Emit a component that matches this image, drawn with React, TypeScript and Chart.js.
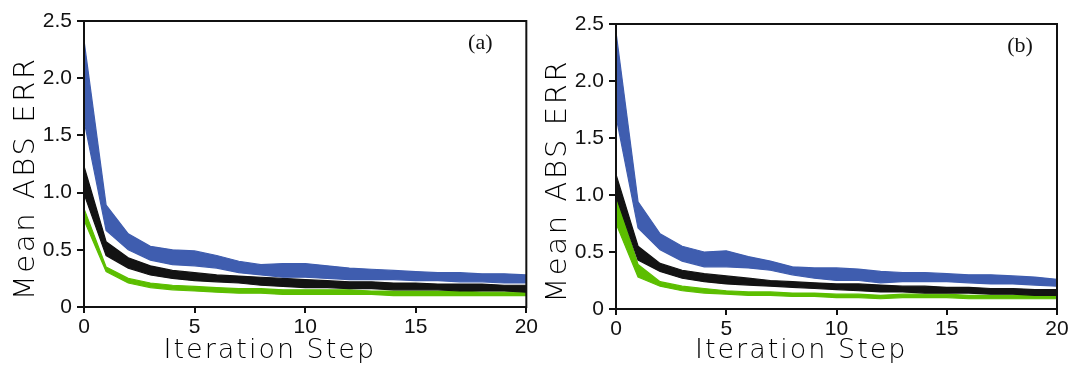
import React, { useEffect, useRef } from "react";
import { Chart, registerables } from "chart.js";

Chart.register(...registerables);

const steps = [0, 1, 2, 3, 4, 5, 6, 7, 8, 9, 10, 11, 12, 13, 14, 15, 16, 17, 18, 19, 20];
const xTickLabels = ["0", "5", "10", "15", "20"];
const yTickLabels = ["0", "0.5", "1.0", "1.5", "2.0", "2.5"];

// Panel (a)
const blueHiA = [2.33, 0.89, 0.64, 0.53, 0.5, 0.49, 0.45, 0.4, 0.37, 0.38, 0.38, 0.36, 0.34, 0.33, 0.32, 0.31, 0.3, 0.3, 0.29, 0.29, 0.28];
const blueLoA = [1.63, 0.67, 0.5, 0.41, 0.37, 0.36, 0.34, 0.3, 0.28, 0.26, 0.26, 0.25, 0.24, 0.24, 0.24, 0.23, 0.23, 0.22, 0.22, 0.21, 0.21];
const blackHiA = [1.23, 0.57, 0.43, 0.36, 0.32, 0.3, 0.28, 0.27, 0.26, 0.25, 0.24, 0.23, 0.22, 0.22, 0.21, 0.21, 0.2, 0.2, 0.2, 0.19, 0.19];
const blackLoA = [0.99, 0.45, 0.34, 0.28, 0.25, 0.23, 0.22, 0.21, 0.19, 0.18, 0.17, 0.17, 0.16, 0.16, 0.15, 0.15, 0.15, 0.14, 0.14, 0.14, 0.13];
const greenHiA = [0.86, 0.35, 0.25, 0.21, 0.19, 0.18, 0.17, 0.16, 0.16, 0.15, 0.15, 0.15, 0.15, 0.14, 0.14, 0.14, 0.14, 0.14, 0.13, 0.13, 0.13];
const greenLoA = [0.76, 0.31, 0.21, 0.17, 0.15, 0.14, 0.13, 0.12, 0.12, 0.11, 0.11, 0.11, 0.11, 0.11, 0.1, 0.1, 0.1, 0.1, 0.1, 0.1, 0.1];

// Panel (b)
const blueHiB = [2.43, 0.94, 0.66, 0.55, 0.5, 0.51, 0.46, 0.42, 0.37, 0.36, 0.36, 0.35, 0.33, 0.32, 0.32, 0.31, 0.3, 0.3, 0.29, 0.28, 0.26];
const blueLoB = [1.69, 0.71, 0.52, 0.42, 0.37, 0.37, 0.36, 0.34, 0.3, 0.27, 0.25, 0.25, 0.23, 0.24, 0.24, 0.24, 0.23, 0.22, 0.22, 0.21, 0.2];
const blackHiB = [1.18, 0.55, 0.4, 0.34, 0.31, 0.29, 0.27, 0.25, 0.24, 0.23, 0.22, 0.22, 0.21, 0.2, 0.2, 0.19, 0.19, 0.18, 0.18, 0.17, 0.17];
const blackLoB = [0.99, 0.43, 0.33, 0.27, 0.24, 0.22, 0.21, 0.2, 0.19, 0.18, 0.17, 0.16, 0.15, 0.15, 0.14, 0.14, 0.14, 0.13, 0.13, 0.12, 0.12];
const greenHiB = [0.99, 0.39, 0.24, 0.2, 0.18, 0.16, 0.15, 0.15, 0.14, 0.14, 0.13, 0.13, 0.12, 0.13, 0.13, 0.13, 0.12, 0.12, 0.12, 0.12, 0.12];
const greenLoB = [0.75, 0.28, 0.2, 0.16, 0.14, 0.13, 0.12, 0.12, 0.11, 0.11, 0.1, 0.1, 0.09, 0.1, 0.1, 0.1, 0.09, 0.09, 0.09, 0.09, 0.09];

const BLUE = "#3f5daf";
const BLACK = "#131313";
const GREEN = "#5cbe00";

const xTitle = "Iteration Step";
const yTitle = "Mean ABS ERR";

type PanelSpec = {
  tag: string;
  bands: { hi: number[]; lo: number[]; color: string }[];
  padTop: number;
  padRight: number;
  xAxisHeight: number;
  tagDx: number;
  tagDy: number;
};

const panels: PanelSpec[] = [
  {
    tag: "(a)",
    bands: [
      { hi: blueHiA, lo: blueLoA, color: BLUE },
      { hi: blackHiA, lo: blackLoA, color: BLACK },
      { hi: greenHiA, lo: greenLoA, color: GREEN },
    ],
    padTop: 21,
    padRight: 13,
    xAxisHeight: 60,
    tagDx: 46,
    tagDy: 22,
  },
  {
    tag: "(b)",
    bands: [
      { hi: blueHiB, lo: blueLoB, color: BLUE },
      { hi: blackHiB, lo: blackLoB, color: BLACK },
      { hi: greenHiB, lo: greenLoB, color: GREEN },
    ],
    padTop: 24,
    padRight: 18,
    xAxisHeight: 58,
    tagDx: 37,
    tagDy: 22,
  },
];

function toPts(vals: number[]) {
  return vals.map((v, i) => ({ x: steps[i], y: v }));
}

function Panel({ spec, width, height }: { spec: PanelSpec; width: number; height: number }) {
  const ref = useRef<HTMLCanvasElement | null>(null);
  useEffect(() => {
    if (!ref.current) return;
    const datasets: any[] = [];
    spec.bands.forEach((b) => {
      datasets.push({
        data: toPts(b.hi),
        borderColor: b.color,
        borderWidth: 1.2,
        pointRadius: 0,
        tension: 0,
        fill: false,
      });
      datasets.push({
        data: toPts(b.lo),
        borderColor: b.color,
        backgroundColor: b.color,
        borderWidth: 1.2,
        pointRadius: 0,
        tension: 0,
        fill: "-1",
      });
    });

    const decor = {
      id: "decor",
      afterDraw(chart: any) {
        const { ctx, chartArea } = chart;
        const { left, top, right, bottom } = chartArea;
        ctx.save();
        ctx.strokeStyle = "#111";
        ctx.lineWidth = 2;
        ctx.strokeRect(left, top, right - left, bottom - top);
        // panel tag
        ctx.fillStyle = "#111";
        ctx.font = '22px "Liberation Serif", serif';
        ctx.textAlign = "center";
        ctx.textBaseline = "middle";
        ctx.fillText(spec.tag, right - spec.tagDx, top + spec.tagDy);
        // x title
        ctx.fillStyle = "#000";
        ctx.font = '200 27px "DejaVu Sans"';
        (ctx as any).letterSpacing = "2px";
        ctx.textBaseline = "alphabetic";
        ctx.fillText(xTitle, left + (right - left) * 0.42, 358);
        // y title
        (ctx as any).letterSpacing = "2.6px";
        ctx.font = '200 29px "DejaVu Sans"';
        ctx.translate(left - 58, top + (bottom - top) * 0.55);
        ctx.rotate(-Math.PI / 2);
        ctx.textBaseline = "middle";
        ctx.fillText(yTitle, 0, 0);
        ctx.restore();
      },
    };

    const chart = new Chart(ref.current, {
      type: "line",
      data: { datasets },
      plugins: [decor],
      options: {
        responsive: false,
        animation: false,
        layout: { padding: { left: 0, top: spec.padTop, right: spec.padRight, bottom: 0 } },
        plugins: { legend: { display: false }, tooltip: { enabled: false }, title: { display: false } },
        scales: {
          x: {
            type: "linear",
            min: 0,
            max: 20,
            afterFit(scale: any) {
              scale.height = spec.xAxisHeight;
            },
            afterBuildTicks(scale: any) {
              scale.ticks = xTickLabels.map((t) => ({ value: Number(t) }));
            },
            ticks: {
              color: "#111",
              font: { family: "Liberation Sans", size: 21 },
              padding: 2,
              maxRotation: 0,
              callback: (v: any) => {
                const i = xTickLabels.indexOf(String(v));
                return i >= 0 ? xTickLabels[i] : "";
              },
            },
            grid: { drawOnChartArea: false, drawTicks: true, tickLength: 6, color: "#111", lineWidth: 2 },
            border: { display: true, color: "#111", width: 2 },
          },
          y: {
            type: "linear",
            min: 0,
            max: 2.5,
            afterFit(scale: any) {
              scale.width = 84;
            },
            afterBuildTicks(scale: any) {
              scale.ticks = yTickLabels.map((t) => ({ value: Number(t) }));
            },
            ticks: {
              color: "#111",
              font: { family: "Liberation Sans", size: 21 },
              padding: 5,
              callback: (v: any) => {
                const i = yTickLabels.findIndex((t) => Math.abs(Number(t) - Number(v)) < 1e-6);
                return i >= 0 ? yTickLabels[i] : "";
              },
            },
            grid: { drawOnChartArea: false, drawTicks: true, tickLength: 7, color: "#111", lineWidth: 2 },
            border: { display: true, color: "#111", width: 2 },
          },
        },
      } as any,
    });
    return () => chart.destroy();
  }, [spec]);
  return <canvas ref={ref} width={width} height={height} style={{ width, height, display: "block" }} />;
}

export default function App() {
  return (
    <div style={{ position: "absolute", left: 0, top: 0, width: 1075, height: 367, background: "#fff" }}>
      <div style={{ position: "absolute", left: 0, top: 0 }}>
        <Panel spec={panels[0]} width={540} height={367} />
      </div>
      <div style={{ position: "absolute", left: 532, top: 0 }}>
        <Panel spec={panels[1]} width={543} height={367} />
      </div>
    </div>
  );
}
